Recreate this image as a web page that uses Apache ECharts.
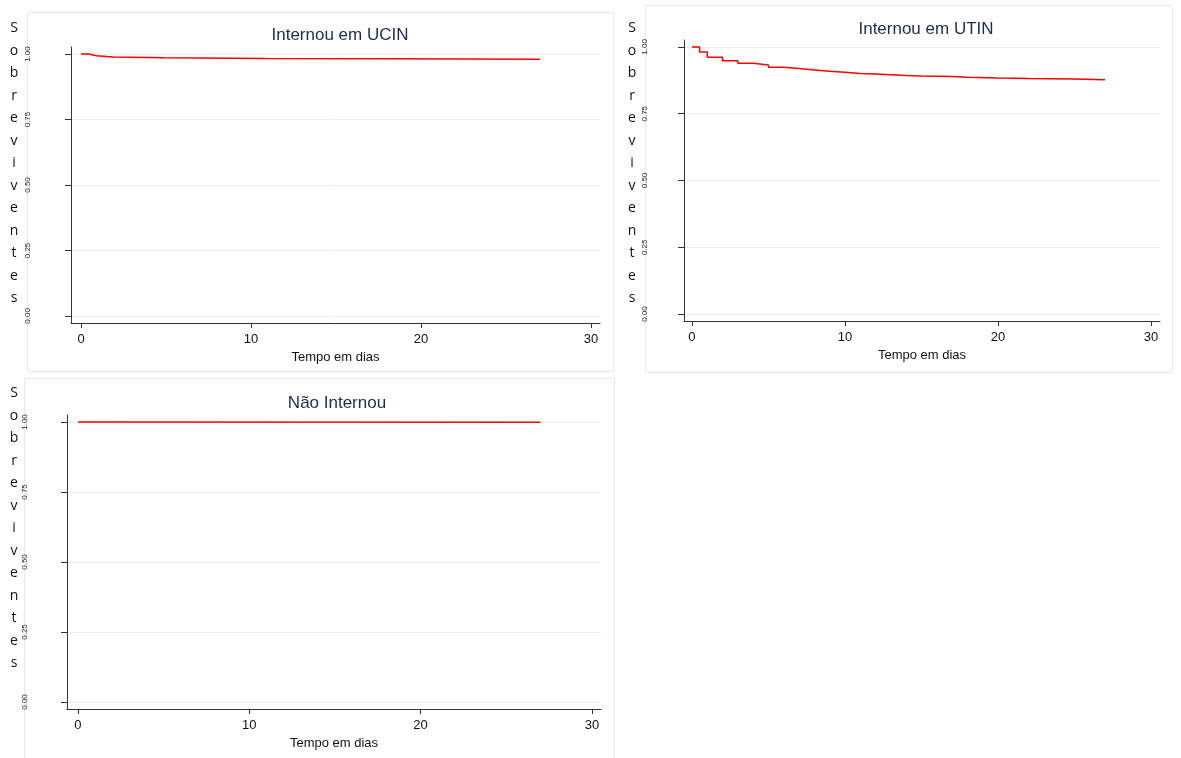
<!DOCTYPE html>
<html>
<head>
<meta charset="utf-8">
<title>Sobreviventes</title>
<script src="https://cdn.jsdelivr.net/npm/echarts@6/dist/echarts.min.js"></script>
<style>
    html, body { margin: 0; padding: 0; background: #fff; }
    #chart { width: 1181px; height: 758px; }
</style>
</head>
<body>
<div id="chart"></div>
<script>
    // Kaplan-Meier, tempo (dias) x proporcao de sobreviventes
    const ucinDias = [0, 0.45, 0.9, 1.9, 3.9, 4.9, 6.9, 10.9, 18, 27];
    const ucinSobrev = [1, 0.9935, 0.9885, 0.987, 0.986, 0.985, 0.983, 0.982, 0.980, 0.980];

    const utinDias = [0, 0.5, 1, 2, 3, 4, 5, 6, 7, 8, 9, 10, 11, 12, 13, 14, 15, 16, 17, 18, 20, 22, 25, 27];
    const utinSobrev = [1, 0.981, 0.961, 0.948, 0.939, 0.932, 0.924, 0.919, 0.914, 0.909, 0.905, 0.901, 0.899,
        0.896, 0.893, 0.891, 0.890, 0.889, 0.887, 0.884, 0.882, 0.880, 0.877, 0.877];

    const naoDias = [0, 0.5, 27];
    const naoSobrev = [1, 0.999, 0.999];

    const titulos = ['Internou em UCIN', 'Internou em UTIN', 'Não Internou'];
    const xTicks = [0, 10, 20, 30];
    const yTicks = [0, 0.25, 0.5, 0.75, 1];
    const yLabels = ['0.00', '0.25', '0.50', '0.75', '1.00'];
    const xNome = 'Tempo em dias';
    const yNome = 'Sobreviventes';

    function pares(xs, ys) {
        return xs.map((x, i) => [x, ys[i]]);
    }

    let myChart = echarts.init(document.getElementById('chart'), null, {renderer: 'canvas'});

    let grids = [
        {left: 71, top: 47, width: 529, height: 276},
        {left: 684, top: 40, width: 476, height: 281},
        {left: 67, top: 415, width: 534, height: 294}
    ];
    let xRange = [[-0.59, 30.53], [-0.52, 30.59], [-0.64, 30.53]];
    let yRange = [[-0.027, 1.027], [-0.026, 1.026], [-0.025, 1.025]];
    let yMargin = [39, 35, 38];

    // molduras dos tres paineis
    let molduras = [
        {x: 27, y: 12, w: 586, h: 359},
        {x: 645, y: 5, w: 527, h: 367},
        {x: 24, y: 378, w: 590, h: 390}
    ];
    let letrasPos = [[14, 17], [632, 17], [14, 382]];
    let tituloPos = [[335, 33], [921, 27], [332, 401]];

    let graphic = [];
    molduras.forEach((m) => {
        graphic.push({
            type: 'rect',
            shape: {x: m.x + 0.5, y: m.y + 0.5, width: m.w, height: m.h},
            style: {fill: 'none', stroke: '#e3ebef', lineWidth: 1},
            silent: true
        });
    });
    letrasPos.forEach((p) => {
        graphic.push({
            type: 'text',
            x: p[0],
            y: p[1],
            style: {
                text: yNome.split('').join('\n'),
                font: '14px "Open Sans", "Liberation Sans", sans-serif',
                lineHeight: 22.5,
                fill: '#111',
                align: 'center'
            },
            silent: true
        });
    });

    let titles = titulos.map((t, i) => ({
        text: t,
        left: tituloPos[i][0],
        top: tituloPos[i][1] - 11,
        textAlign: 'center',
        textStyle: {
            fontFamily: '"Liberation Sans", Arial, sans-serif',
            fontSize: 17,
            fontWeight: 'normal',
            color: '#1f2a55'
        }
    }));

    let xAxis = grids.map((g, i) => ({
        type: 'value',
        gridIndex: i,
        min: xRange[i][0],
        max: xRange[i][1],
        name: xNome,
        nameLocation: 'middle',
        nameGap: 28,
        nameTextStyle: {fontFamily: '"Liberation Sans", Arial, sans-serif', fontSize: 13, color: '#111'},
        axisLine: {onZero: false, lineStyle: {color: '#333', width: 1}},
        axisTick: {show: true, length: 5, customValues: xTicks, lineStyle: {color: '#333'}},
        axisLabel: {
            customValues: xTicks,
            margin: 10,
            fontFamily: '"Liberation Sans", Arial, sans-serif',
            fontSize: 13,
            color: '#111'
        },
        splitLine: {show: false}
    }));

    let yAxis = grids.map((g, i) => ({
        type: 'value',
        gridIndex: i,
        min: yRange[i][0],
        max: yRange[i][1],
        axisLine: {show: true, onZero: false, lineStyle: {color: '#333', width: 1}},
        axisTick: {show: true, length: 6, customValues: yTicks, lineStyle: {color: '#333'}},
        axisLabel: {
            customValues: yTicks,
            rotate: 90,
            margin: yMargin[i],
            fontFamily: '"Liberation Sans", Arial, sans-serif',
            fontSize: 8,
            color: '#222',
            formatter: function (val) {
                let idx = yTicks.indexOf(val);
                return idx >= 0 ? yLabels[idx] : '';
            }
        },
        splitLine: {show: true, lineStyle: {color: '#e8eff2', width: 1}}
    }));

    let curvas = [pares(ucinDias, ucinSobrev), pares(utinDias, utinSobrev), pares(naoDias, naoSobrev)];
    let series = curvas.map((d, i) => ({
        type: 'line',
        xAxisIndex: i,
        yAxisIndex: i,
        step: 'end',
        data: d,
        symbol: 'none',
        animation: false,
        lineStyle: {color: '#ff0000', width: 1.5}
    }));

    let option = {
        animation: false,
        backgroundColor: '#fff',
        title: titles,
        grid: grids.map((g) => Object.assign({containLabel: false, outerBoundsMode: 'none', show: false}, g)),
        xAxis: xAxis,
        yAxis: yAxis,
        series: series,
        graphic: graphic
    };
    myChart.setOption(option, true);
</script>
</body>
</html>
